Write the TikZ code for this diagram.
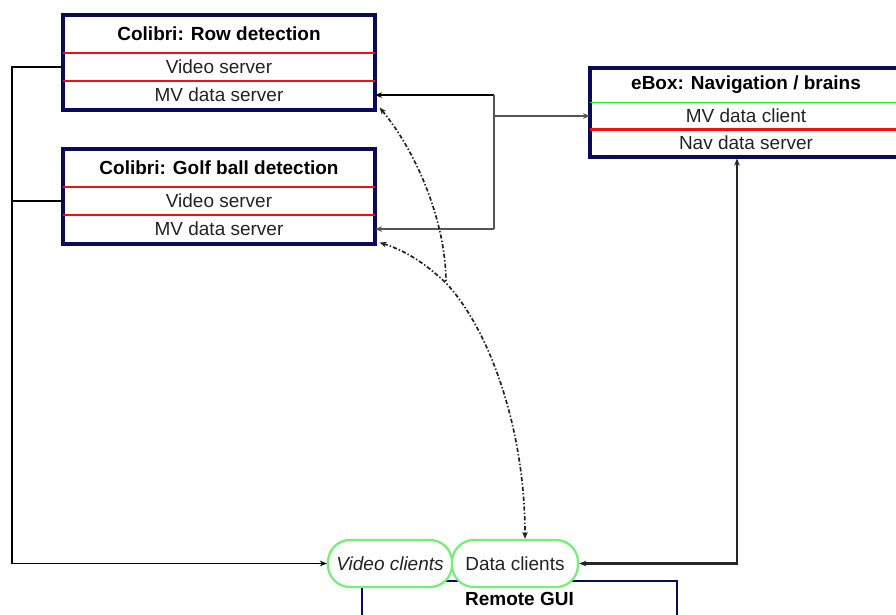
\documentclass[tikz,border=0pt]{standalone}
\usepackage{fontspec}
\setmainfont{Liberation Sans}
\usetikzlibrary{positioning,arrows.meta}
\definecolor{boxnavy}{HTML}{0A0A5A}
\definecolor{divred}{HTML}{EE1111}
\definecolor{divgreen}{HTML}{22EE22}
\definecolor{pillgreen}{HTML}{77EE77}
\definecolor{linegray}{HTML}{555555}
\definecolor{txtgray}{HTML}{222222}

\begin{document}
\begin{tikzpicture}[x=0.025cm, y=-0.025cm,
  boxframe/.style={draw=boxnavy, line width=2.2pt, minimum width=7.8cm, inner sep=0pt},
  ttl/.style={font=\fontsize{13.5}{16}\selectfont\bfseries, text=black, minimum width=7.8cm, inner sep=0pt, outer sep=0pt},
  cell/.style={font=\fontsize{13.5}{16}\selectfont, text=txtgray, minimum width=7.8cm, minimum height=0.7cm, inner sep=0pt, outer sep=0pt},
  divthin/.style={draw=divred, line width=1.5pt},
  divthick/.style={draw=divred, line width=1.8pt},
  pill/.style={draw=pillgreen, line width=1.6pt, fill=white, rounded corners=0.55cm, minimum height=1.175cm, inner sep=0pt, font=\fontsize{13.5}{16}\selectfont, text=txtgray},
  link/.style={draw=linegray, line width=1.8pt},
  arrow/.style={-{Stealth[length=5pt,width=4pt]}},
  bus/.style={draw=black, line width=1.4pt},
  dashlink/.style={draw=txtgray, line width=1.2pt, dash pattern=on 3pt off 1.5pt on 1pt off 1.5pt}
]
\useasboundingbox (0,0) rectangle (896,614);
\clip (0,0) rectangle (896,614);

\node[boxframe, minimum height=2.375cm] (row) at (219,62.5) {};
\node[ttl, minimum height=0.99cm, below=0pt of row.north] (rowttl) {Colibri: Row detection};
\node[cell, below=0pt of rowttl] (rowvid) {Video server};
\node[cell, below=0pt of rowvid] (rowmv) {MV data server};
\draw[divthin] (rowvid.north west) -- (rowvid.north east);
\draw[divthick] (rowmv.north west) -- (rowmv.north east);

\node[boxframe, minimum height=2.375cm] (golf) at (219,196.5) {};
\node[ttl, minimum height=0.99cm, below=0pt of golf.north] (golfttl) {Colibri: Golf ball detection};
\node[cell, below=0pt of golfttl] (golfvid) {Video server};
\node[cell, below=0pt of golfvid] (golfmv) {MV data server};
\draw[divthin] (golfvid.north west) -- (golfvid.north east);
\draw[divthick] (golfmv.north west) -- (golfmv.north east);

\node[boxframe, minimum height=2.225cm] (ebox) at (746,112.5) {};
\node[ttl, minimum height=0.9cm, below=0pt of ebox.north] (ebttl) {eBox: Navigation / brains};
\node[cell, minimum height=0.675cm, below=0pt of ebttl] (ebmv) {MV data client};
\node[cell, minimum height=0.675cm, below=0pt of ebmv] (ebnav) {Nav data server};
\draw[draw=divgreen, line width=1.2pt] (ebmv.north west) -- (ebmv.north east);
\draw[divthick] (ebnav.north west) -- (ebnav.north east);

\node[draw=boxnavy, line width=1.1pt, minimum width=7.875cm, minimum height=2cm, anchor=north] (gui) at (519.5,580) {};
\node[ttl, minimum width=0pt, below=0.3cm of gui.north] (guittl) {Remote GUI};

\node[pill, minimum width=3.1cm, font=\fontsize{13.5}{16}\selectfont\itshape] (vid) at (390,563.5) {Video clients};
\node[pill, minimum width=3.15cm] (dat) at (515,563.5) {Data clients};

\coordinate (split) at (494,0);
\coordinate (busx) at (12,0);
\coordinate (merge) at (446,283);

\draw[link, draw=black, line width=2pt, arrow] (split |- rowmv.east) -- (rowmv.east);
\draw[link] (split |- rowmv.east) -- (split |- golfmv.east);
\draw[link, arrow] (split |- golfmv.east) -- (golfmv.east);
\draw[link, arrow] (split |- ebmv.west) -- (ebmv.west);
\draw[link, draw=black!85, line width=2pt, {Stealth[length=5pt,width=4pt]}-{Stealth[length=5pt,width=4pt]}] ([xshift=-0.225cm]ebox.south) |- (dat.east);

\draw[bus, arrow] (rowvid.west) -| (busx |- vid.west) -- (vid.west);
\draw[bus] (golfvid.west) -- (busx |- golfvid.west);

\draw[dashlink, {Stealth[length=5pt,width=4pt]}-] ([shift={(3,-4)}]row.south east) .. controls (415,150) and (446,220) .. (merge);
\draw[dashlink, {Stealth[length=5pt,width=4pt]}-{Stealth[length=5pt,width=4pt]}] ([shift={(3,-3)}]golf.south east) .. controls (410,252) and (430,268) .. (merge) .. controls (490,330) and (525,430) .. ([xshift=0.25cm]dat.north);
\end{tikzpicture}
\end{document}
